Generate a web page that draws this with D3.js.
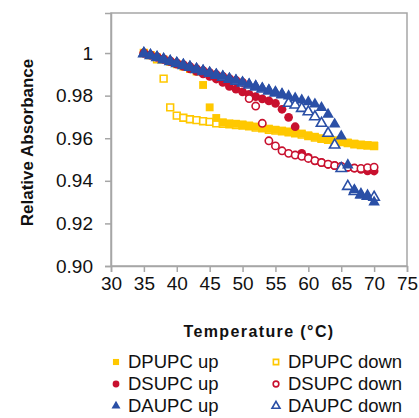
<!DOCTYPE html>
<html>
<head>
<meta charset="utf-8">
<script src="https://cdn.jsdelivr.net/npm/d3@7"></script>
<style>
  html, body { margin: 0; padding: 0; background: #fff; }
  svg { display: block; font-family: "Liberation Sans", Arial, sans-serif; }
</style>
</head>
<body>
<div id="chart"></div>
<script>
// Temperatures (°C) shared by every scan
const temperatures = [35, 36, 37, 38, 39, 40, 41, 42, 43, 44, 45, 46, 47, 48, 49, 50, 51, 52,
  53, 54, 55, 56, 57, 58, 59, 60, 61, 62, 63, 64, 65, 66, 67, 68, 69, 70]

const dpupcUp = [1.000, 0.999, 0.998, 0.997, 0.9958, 0.9947, 0.9936, 0.9925, 0.9913, 0.985, 0.9745, 0.9695,
  0.9675, 0.967, 0.9668, 0.9665, 0.966, 0.9655, 0.965, 0.9645, 0.964, 0.9636, 0.9632, 0.9628,
  0.9622, 0.9614, 0.9607, 0.960, 0.9595, 0.959, 0.9585, 0.958, 0.9575, 0.957, 0.9568, 0.9566]

const dpupcDown = [1.000, 0.999, 0.997, 0.988, 0.9745, 0.9706, 0.9696, 0.9689, 0.9685, 0.968, 0.9677, 0.967,
  0.9668, 0.9665, 0.9662, 0.966, 0.9656, 0.965, 0.9646, 0.964, 0.9636, 0.9632, 0.9628, 0.9623,
  0.9617, 0.961, 0.9603, 0.9597, 0.9592, 0.9587, 0.9582, 0.9577, 0.9572, 0.9568, 0.9565, 0.9563]

const dsupcUp = [1.000, 0.999, 0.998, 0.997, 0.996, 0.9948, 0.9937, 0.9926, 0.9914, 0.9902, 0.989, 0.9878,
  0.9862, 0.9843, 0.983, 0.9818, 0.9806, 0.9795, 0.9785, 0.9775, 0.9764, 0.9736, 0.9698, 0.9654,
  0.9529, 0.951, 0.9494, 0.9485, 0.9477, 0.9471, 0.9467, 0.9463, 0.9459, 0.9454, 0.9447, 0.9446]

const dsupcDown = [1.000, 0.9991, 0.9982, 0.9972, 0.9963, 0.9954, 0.9945, 0.9936, 0.9926, 0.9917, 0.9908, 0.9899,
  0.989, 0.988, 0.9871, 0.9862, 0.9786, 0.9751, 0.967, 0.9588, 0.9564, 0.9541, 0.9529, 0.9521,
  0.9515, 0.9505, 0.9495, 0.9486, 0.9478, 0.9472, 0.9468, 0.9464, 0.946, 0.9458, 0.9462, 0.9464]

const daupcUp = [1.000, 0.9991, 0.9982, 0.9972, 0.9963, 0.9954, 0.9945, 0.9936, 0.9926, 0.9917, 0.9908, 0.9899,
  0.989, 0.988, 0.9871, 0.9862, 0.9853, 0.9844, 0.9834, 0.9825, 0.9816, 0.9807, 0.9798, 0.9788,
  0.9779, 0.977, 0.976, 0.9743, 0.9712, 0.9666, 0.961, 0.9474, 0.9357, 0.9333, 0.9326, 0.930]

const daupcDown = [0.9997, 0.9988, 0.9979, 0.9969, 0.996, 0.9951, 0.9942, 0.9933, 0.9923, 0.9914, 0.9905, 0.9896,
  0.9887, 0.9877, 0.9868, 0.9859, 0.985, 0.9841, 0.9831, 0.9822, 0.9813, 0.9804, 0.9764, 0.9756,
  0.974, 0.9724, 0.9701, 0.967, 0.9623, 0.9568, 0.9458, 0.9374, 0.935, 0.9335, 0.9328, 0.9323]

const xTicks = [30, 35, 40, 45, 50, 55, 60, 65, 70, 75]
const yTicks = [0.90, 0.92, 0.94, 0.96, 0.98, 1]
const yTickLabels = ["0.90", "0.92", "0.94", "0.96", "0.98", "1"]

const yellow = "#FFC800"
const red = "#C8102E"
const blue = "#2A4FA6"

// draw order matters: later series sit on top
const series = [
  { name: "DPUPC down", values: dpupcDown, color: yellow, shape: d3.symbolSquare, hollow: true },
  { name: "DPUPC up", values: dpupcUp, color: yellow, shape: d3.symbolSquare, hollow: false },
  { name: "DSUPC up", values: dsupcUp, color: red, shape: d3.symbolCircle, hollow: false },
  { name: "DSUPC down", values: dsupcDown, color: red, shape: d3.symbolCircle, hollow: true },
  { name: "DAUPC down", values: daupcDown, color: blue, shape: d3.symbolTriangle, hollow: true },
  { name: "DAUPC up", values: daupcUp, color: blue, shape: d3.symbolTriangle, hollow: false }
]

const legendOrder = ["DPUPC up", "DPUPC down", "DSUPC up", "DSUPC down", "DAUPC up", "DAUPC down"]

const width = 419
const height = 418
const margin = { top: 13, right: 12, bottom: 152, left: 111 }
const plotW = width - margin.left - margin.right
const plotH = height - margin.top - margin.bottom

const svg = d3.select("#chart")
  .append("svg")
  .attr("width", width)
  .attr("height", height)

const x = d3.scaleLinear().domain([30, 75]).range([margin.left, margin.left + plotW])
const y = d3.scaleLinear().domain([0.9, 1.0188]).range([margin.top + plotH, margin.top])

// plot frame
svg.append("rect")
  .attr("x", margin.left)
  .attr("y", margin.top)
  .attr("width", plotW)
  .attr("height", plotH)
  .style("fill", "none")
  .style("stroke", "#a6a6a6")
  .style("stroke-width", 1.5)

// X axis
const xAxis = svg.append("g")
  .attr("transform", `translate(0,${margin.top + plotH})`)
  .call(d3.axisBottom(x).tickValues(xTicks).tickSize(6).tickPadding(5).tickFormat(d3.format("d")))
xAxis.select(".domain").style("stroke", "#a6a6a6").style("stroke-width", 1.5)
xAxis.selectAll("line").style("stroke", "#a6a6a6").style("stroke-width", 1.5)
xAxis.selectAll("text")
  .style("font-size", "19px")
  .style("fill", "#111")

// Y axis
const yAxis = svg.append("g")
  .attr("transform", `translate(${margin.left},0)`)
  .call(d3.axisLeft(y).tickValues(yTicks).tickSize(6).tickPadding(12)
    .tickFormat((d, i) => yTickLabels[i]))
yAxis.select(".domain").style("stroke", "#a6a6a6").style("stroke-width", 1.5)
yAxis.selectAll("line").style("stroke", "#a6a6a6").style("stroke-width", 1.5)
yAxis.selectAll("text")
  .style("font-size", "19px")
  .style("fill", "#111")

// Axis titles
svg.append("text")
  .attr("x", margin.left + plotW / 2)
  .attr("y", 337)
  .attr("text-anchor", "middle")
  .style("font-size", "16px")
  .style("font-weight", "bold")
  .style("letter-spacing", "1.4px")
  .style("fill", "#111")
  .text("Temperature (°C)")

svg.append("text")
  .attr("transform", `translate(33,${margin.top + plotH / 2 + 3}) rotate(-90)`)
  .attr("text-anchor", "middle")
  .style("font-size", "17px")
  .style("font-weight", "bold")
  .style("fill", "#111")
  .text("Relative Absorbance")

// marker sizes (area, px^2)
function symbolSize(shape, hollow, legend) {
  const k = legend ? 0.6 : 1
  if (shape === d3.symbolSquare) return (hollow ? 46 : 62) * k
  if (shape === d3.symbolCircle) return (hollow ? 42 : 60) * k
  return (hollow ? 46 : 58) * k
}

function styleMarker(sel, s) {
  sel.style("fill", s.hollow ? "#fff" : s.color)
    .style("stroke", s.hollow ? s.color : "none")
    .style("stroke-width", s.hollow ? 1.6 : 0)
}

// Data points
series.forEach(s => {
  const sym = d3.symbol().type(s.shape).size(symbolSize(s.shape, s.hollow, false))
  svg.append("g")
    .attr("class", "series")
    .selectAll("path")
    .data(temperatures.map((t, i) => ({ t, v: s.values[i] })))
    .enter()
    .append("path")
    .attr("d", sym)
    .attr("transform", d => `translate(${x(d.t)},${y(d.v)})`)
    .call(styleMarker, s)
})

// Legend (two columns, three rows)
const legend = svg.append("g").attr("class", "legend")
legendOrder.forEach((name, i) => {
  const s = series.find(d => d.name === name)
  const col = i % 2
  const row = Math.floor(i / 2)
  const lx = col === 0 ? 116 : 276
  const ly = 362 + row * 22
  const sym = d3.symbol().type(s.shape).size(symbolSize(s.shape, s.hollow, true))
  legend.append("path")
    .attr("d", sym)
    .attr("transform", `translate(${lx},${ly})`)
    .call(styleMarker, s)
  legend.append("text")
    .attr("x", lx + 12)
    .attr("y", ly)
    .attr("dy", "0.33em")
    .style("font-size", "18.5px")
    .style("fill", "#111")
    .text(name)
})
</script>
</body>
</html>
